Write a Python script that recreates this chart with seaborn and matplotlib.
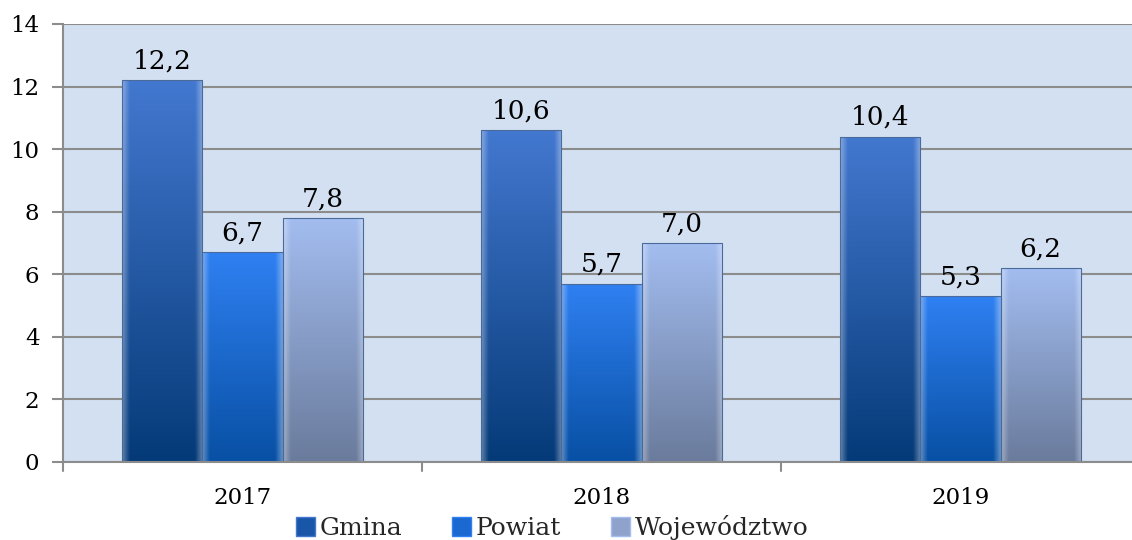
import numpy as np
import pandas as pd
import matplotlib
matplotlib.use("Agg")
import matplotlib.pyplot as plt
import seaborn as sns
from matplotlib.colors import to_rgb
from matplotlib.patches import Patch

years = ["2017", "2018", "2019"]
series = ["Gmina", "Powiat", "Województwo"]
gmina = [12.2, 10.6, 10.4]
powiat = [6.7, 5.7, 5.3]
wojewodztwo = [7.8, 7.0, 6.2]
y_ticks = [0, 2, 4, 6, 8, 10, 12, 14]

top_colors = ["#4378d0", "#2f80f2", "#a3bdf0"]
bottom_colors = ["#053a78", "#0850a4", "#6a7b9c"]
mid_colors = ["#1a56a8", "#1a68d0", "#8ea2cc"]

df = pd.DataFrame({
    "year": years * 3,
    "series": sum([[s] * 3 for s in series], []),
    "value": gmina + powiat + wojewodztwo,
})

sns.set_theme(style="white")
plt.rcParams["font.family"] = ["DejaVu Serif"]

fig = plt.figure(figsize=(11.32, 5.40), dpi=100)
ax = fig.add_axes([63 / 1132, 78 / 540, (1132 - 63) / 1132, (462 - 24) / 540])
ax.set_facecolor("#d3e0f1")

sns.barplot(data=df, x="year", y="value", hue="series", hue_order=series,
            palette=mid_colors, width=0.67, gap=0, ax=ax, legend=False,
            edgecolor="none", linewidth=0)


def gradient_img(top, bottom, n=300, m=60):
    t = np.array(to_rgb(top))
    b = np.array(to_rgb(bottom))
    v = np.linspace(0, 1, n)[:, None, None]
    img = t[None, None, :] * (1 - v) + b[None, None, :] * v
    img = np.repeat(img, m, axis=1)
    # bevel: lighter at the side edges
    x = np.linspace(0, 1, m)
    edge = np.clip(1 - np.minimum(x, 1 - x) / 0.09, 0, 1)
    img = img + (1 - img) * (0.35 * edge)[None, :, None]
    return np.clip(img, 0, 1)


for i, cont in enumerate(ax.containers):
    for bar in cont:
        x0, w, h = bar.get_x(), bar.get_width(), bar.get_height()
        im = ax.imshow(gradient_img(top_colors[i], bottom_colors[i]),
                       extent=(x0, x0 + w, 0, h), aspect="auto",
                       zorder=bar.get_zorder() + 0.1, interpolation="bilinear")
        im.set_clip_path(bar)
        ax.add_patch(plt.Rectangle((x0, 0), w, h, fill=False,
                                   edgecolor="#4a6a9a", linewidth=0.8,
                                   zorder=bar.get_zorder() + 0.2))
    ax.bar_label(cont, labels=[f"{v:.1f}".replace(".", ",") for v in cont.datavalues],
                 fontsize=19, padding=5, color="black")

ax.set_ylim(0, 14)
ax.set_xlim(-0.5, 2.5 - 8 / 359)
ax.set_yticks(y_ticks)
ax.set_yticklabels([str(t) for t in y_ticks], fontsize=16.5)
ax.grid(axis="y", color="#8c8c8c", linewidth=1.5)
ax.set_axisbelow(True)
ax.set_xlabel("")
ax.set_ylabel("")

for s in ["top", "right", "bottom"]:
    ax.spines[s].set_visible(False)
ax.spines["left"].set_color("#8c8c8c")
ax.spines["left"].set_linewidth(1.5)
ax.tick_params(axis="y", left=True, length=8, width=1.5, color="#8c8c8c",
               pad=9, labelcolor="black")
ax.tick_params(axis="x", bottom=False, labelsize=16.5, pad=12, labelcolor="black")

# category boundary ticks on the x axis
ax.axhline(0, color="#8c8c8c", linewidth=1.5, zorder=5, clip_on=False)
for b in [-0.5, 0.5, 1.5]:
    ax.plot([b, b], [0, -0.3], color="#8c8c8c", linewidth=1.5, clip_on=False)

handles = [Patch(facecolor=mid_colors[i], edgecolor=top_colors[i]) for i in range(3)]
fig.legend(handles, series, loc="center", bbox_to_anchor=(0.488, 0.023), ncol=3,
           frameon=False, fontsize=18, handlelength=0.75, handleheight=0.75,
           handletextpad=0.2, columnspacing=2.0, borderaxespad=0)

fig.savefig("out.png", dpi=100)
